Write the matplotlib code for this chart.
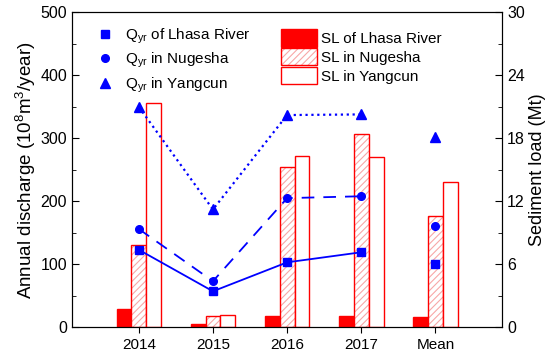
import numpy as np
import matplotlib
matplotlib.use("Agg")
import matplotlib.pyplot as plt
from matplotlib.patches import Patch
from matplotlib.lines import Line2D

plt.rcParams["font.family"] = ["Liberation Sans", "DejaVu Sans"]
plt.rcParams["mathtext.fontset"] = "custom"
plt.rcParams["mathtext.rm"] = "Liberation Sans"
plt.rcParams["mathtext.it"] = "Liberation Sans"
plt.rcParams["hatch.linewidth"] = 0.8

# data
groups = ["2014", "2015", "2016", "2017", "Mean"]
q_lhasa = [123, 57, 103, 119, 101]
q_nugesha = [156, 73, 205, 208, 160]
q_yangcun = [350, 187, 337, 338, 302]
sl_lhasa = [1.7, 0.3, 1.1, 1.07, 0.98]
sl_nugesha = [7.8, 1.05, 15.3, 18.4, 10.6]
sl_yangcun = [21.4, 1.2, 16.3, 16.2, 13.8]

x = np.arange(1, len(groups) + 1)
yrs = x[:4]
w = 0.2
blue = "#0000ff"
red = "#ff0000"
pink = "#f7a8a8"

fig, ax = plt.subplots(figsize=(5.5, 3.56), dpi=100)
fig.subplots_adjust(left=0.131, right=0.913, top=0.965, bottom=0.081)
ax2 = ax.twinx()

# sediment bars (right axis)
ax2.bar(x - w, sl_lhasa, w, color=red, edgecolor=red, linewidth=1)
ax2.bar(x, sl_nugesha, w, color="white", edgecolor=pink, hatch="/////", linewidth=0)
ax2.bar(x, sl_nugesha, w, color="none", edgecolor=red, linewidth=1)
ax2.bar(x + w, sl_yangcun, w, color="white", edgecolor=red, linewidth=1)
ax2.set_ylim(0, 30)
ax2.set_yticks([0, 6, 12, 18, 24, 30])
ax2.set_yticks([3, 9, 15, 21, 27], minor=True)
ax2.set_ylabel("Sediment load (Mt)", fontsize=13, labelpad=3)

# discharge lines (left axis), drawn on top
ax.set_zorder(ax2.get_zorder() + 1)
ax.patch.set_visible(False)
ms = 5.5
ax.plot(yrs, q_lhasa[:4], "-", color=blue, lw=1.3, marker="s", ms=ms)
ax.plot(yrs, q_nugesha[:4], "--", color=blue, lw=1.3, marker="o", ms=ms, dashes=(7, 5))
ax.plot(yrs, q_yangcun[:4], ":", color=blue, lw=1.6, marker="^", ms=ms + 1)
ax.plot(x[4], q_lhasa[4], "s", color=blue, ms=ms)
ax.plot(x[4], q_nugesha[4], "o", color=blue, ms=ms)
ax.plot(x[4], q_yangcun[4], "^", color=blue, ms=ms + 1)

ax.set_xlim(0.1, 5.9)
ax.set_ylim(0, 500)
ax.set_yticks([0, 100, 200, 300, 400, 500])
ax.set_yticks([50, 150, 250, 350, 450], minor=True)
ax.set_xticks(x)
ax.set_xticklabels(groups)
ax.set_ylabel("Annual discharge (10$^8$m$^3$/year)", fontsize=13.5, labelpad=2)

ax.tick_params(axis="y", which="both", direction="in", labelsize=11.5)
ax.tick_params(axis="y", which="major", length=5)
ax.tick_params(axis="y", which="minor", length=3)
ax.tick_params(axis="x", direction="out", length=4, labelsize=11)
ax2.tick_params(axis="y", which="both", direction="in", labelsize=11.5)
ax2.tick_params(axis="y", which="major", length=5)
ax2.tick_params(axis="y", which="minor", length=3)

# legends
h1 = [Line2D([], [], ls="none", marker="s", color=blue, ms=ms),
      Line2D([], [], ls="none", marker="o", color=blue, ms=ms),
      Line2D([], [], ls="none", marker="^", color=blue, ms=ms + 1)]
l1 = [r"Q$_{\rm yr}$ of Lhasa River", r"Q$_{\rm yr}$ in Nugesha", r"Q$_{\rm yr}$ in Yangcun"]
leg1 = ax.legend(h1, l1, loc="upper left", bbox_to_anchor=(0.028, 1.0), frameon=False,
                 fontsize=11, handlelength=1.0, handletextpad=0.8, labelspacing=0.35)
ax.add_artist(leg1)

h2 = [Patch(facecolor=red, edgecolor=red),
      (Patch(facecolor="white", edgecolor=pink, hatch="/////", linewidth=0),
       Patch(facecolor="none", edgecolor=red)),
      Patch(facecolor="white", edgecolor=red)]
l2 = ["SL of Lhasa River", "SL in Nugesha", "SL in Yangcun"]
ax.legend(h2, l2, loc="upper left", bbox_to_anchor=(0.455, 0.99), frameon=False,
          fontsize=11, handlelength=2.3, handleheight=1.35, handletextpad=0.3,
          labelspacing=0.12)

fig.savefig("out.png", dpi=100)
